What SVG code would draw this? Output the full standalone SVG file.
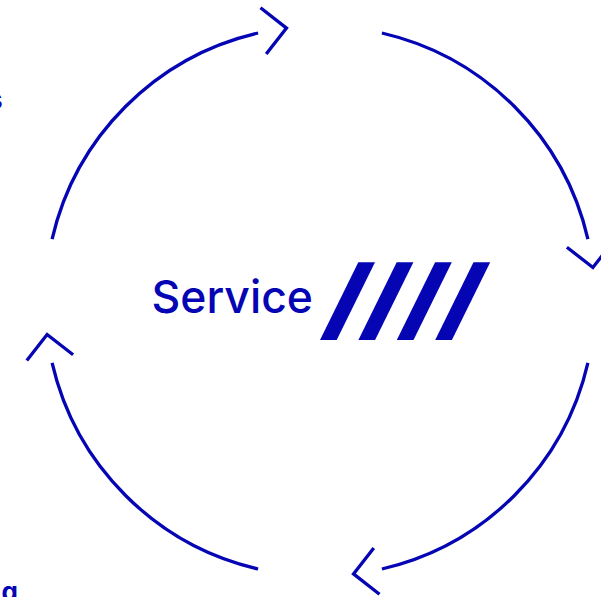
<svg xmlns="http://www.w3.org/2000/svg" width="601" height="597" viewBox="0 0 601 597">
  <style>
    .arc { fill: none; stroke: #0505b4; stroke-width: 3.3; }
    .head { fill: none; stroke: #0505b4; stroke-width: 3.3; stroke-linejoin: miter; }
    .slash { fill: #0505b4; }
    .title { font-family: Inter, "Noto Sans", "Liberation Sans", sans-serif; font-size: 45px; font-weight: 500; fill: #0505b4; }
    .edge { font-family: Inter, "Noto Sans", "Liberation Sans", sans-serif; font-size: 26px; font-weight: bold; fill: #0505b4; }
  </style>
  <rect width="601" height="597" fill="#ffffff"/>
  <g id="connectors">
    <path class="arc" d="M52.1,239.1 A275,275 0 0 1 258.1,33.0"/>
    <polyline class="head" points="260.5,7.8 286.5,28.1 266.2,54.1"/>
    <path class="arc" d="M381.9,33.0 A275,275 0 0 1 587.9,239.1"/>
    <polyline class="head" points="566.9,247.2 592.9,267.5 613.2,241.5"/>
    <path class="arc" d="M587.9,362.9 A275,275 0 0 1 381.9,569.0"/>
    <polyline class="head" points="373.8,547.9 353.5,573.9 379.5,594.2"/>
    <path class="arc" d="M258.1,569.0 A275,275 0 0 1 52.1,362.9"/>
    <polyline class="head" points="26.8,360.5 47.1,334.5 73.1,354.8"/>
  </g>
  <g id="service">
    <text class="title" x="151.5" y="313.3" textLength="161.5" lengthAdjust="spacingAndGlyphs">Service</text>
    <polygon class="slash" points="358.3,262.3 375,262.3 336.7,340 320,340"/>
    <polygon class="slash" points="396.7,262.3 413.4,262.3 375.1,340 358.4,340"/>
    <polygon class="slash" points="435.1,262.3 451.8,262.3 413.5,340 396.8,340"/>
    <polygon class="slash" points="473.5,262.3 490.2,262.3 451.9,340 435.2,340"/>
  </g>
  <g id="label-top-left">
    <text class="edge" x="2.5" y="108.5" text-anchor="end">s</text>
  </g>
  <g id="label-bottom-left">
    <text class="edge" x="18" y="601" text-anchor="end">g</text>
  </g>
</svg>
